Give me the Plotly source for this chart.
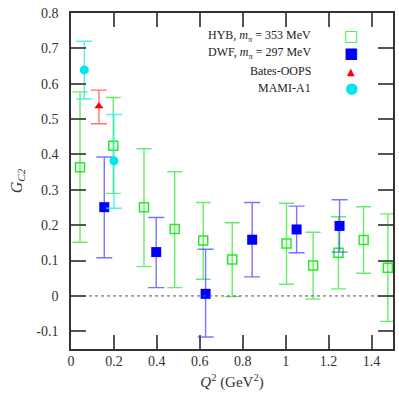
import plotly.graph_objects as go

# ---- data ----
hyb_q = [0.042, 0.197, 0.340, 0.483, 0.616, 0.751, 1.004, 1.128, 1.246, 1.363, 1.476]
hyb_g = [0.364, 0.425, 0.251, 0.189, 0.157, 0.103, 0.148, 0.086, 0.122, 0.158, 0.080]
hyb_hi = [0.577, 0.561, 0.416, 0.351, 0.264, 0.207, 0.262, 0.180, 0.224, 0.252, 0.232]
hyb_lo = [0.152, 0.290, 0.083, 0.0235, 0.047, -0.002, 0.033, -0.009, 0.020, 0.064, -0.072]

dwf_q = [0.155, 0.397, 0.627, 0.844, 1.051, 1.251]
dwf_g = [0.251, 0.124, 0.006, 0.159, 0.188, 0.198]
dwf_hi = [0.393, 0.222, 0.132, 0.264, 0.254, 0.272]
dwf_lo = [0.108, 0.0235, -0.116, 0.054, 0.122, 0.124]

bates_q = [0.130]
bates_g = [0.536]
bates_hi = [0.582]
bates_lo = [0.487]

mami_q = [0.062, 0.200]
mami_g = [0.639, 0.382]
mami_hi = [0.720, 0.513]
mami_lo = [0.557, 0.248]

x_ticks = [0, 0.2, 0.4, 0.6, 0.8, 1.0, 1.2, 1.4]
x_ticklabels = ["0", "0.2", "0.4", "0.6", "0.8", "1", "1.2", "1.4"]
y_ticks = [-0.1, 0, 0.1, 0.2, 0.3, 0.4, 0.5, 0.6, 0.7, 0.8]
y_ticklabels = ["-0.1", "0", "0.1", "0.2", "0.3", "0.4", "0.5", "0.6", "0.7", "0.8"]

legend_labels = ["HYB, <i>m</i><sub>π</sub> = 353 MeV",
                 "DWF, <i>m</i><sub>π</sub> = 297 MeV",
                 "Bates-OOPS",
                 "MAMI-A1"]

FONT = "Liberation Serif"


def errs(vals, hi, lo):
    plus = [h - v for v, h in zip(vals, hi)]
    minus = [v - l for v, l in zip(vals, lo)]
    return plus, minus


fig = go.Figure()


def add_series(q, g, hi, lo, name, marker, ecolor, ew):
    p, m = errs(g, hi, lo)
    fig.add_trace(go.Scatter(
        x=q, y=g, mode="markers", name=name, showlegend=False,
        marker=marker, cliponaxis=False,
        error_y=dict(type="data", array=p, arrayminus=m, symmetric=False,
                     color=ecolor, thickness=1.4, width=ew),
    ))


add_series(hyb_q, hyb_g, hyb_hi, hyb_lo, "HYB",
           dict(symbol="square-open", size=9, color="#22ee22", line=dict(width=1.5, color="#22ee22")),
           "rgba(40,230,40,0.7)", 7.5)
add_series(dwf_q, dwf_g, dwf_hi, dwf_lo, "DWF",
           dict(symbol="square", size=10, color="#0000ff"),
           "rgba(60,60,255,0.7)", 8)
add_series(bates_q, bates_g, bates_hi, bates_lo, "Bates-OOPS",
           dict(symbol="triangle-up", size=8, color="#ff0000"),
           "rgba(255,70,70,0.75)", 8)
add_series(mami_q, mami_g, mami_hi, mami_lo, "MAMI-A1",
           dict(symbol="circle", size=9, color="#00e5ee"),
           "rgba(40,235,245,0.8)", 8)

# zero reference line
fig.add_shape(type="line", xref="paper", x0=0, x1=1, yref="y", y0=0, y1=0,
              line=dict(color="#555555", width=1, dash="dot"))

# legend (text on the left, symbol on the right as in reference)
leg_syms = ["<span style='color:#22ee22'>□</span>",
            "<span style='color:#0000ff'>■</span>",
            "<span style='color:#ff0000'>▲</span>",
            "<span style='color:#00e5ee'>●</span>"]
leg_sizes = [15, 15, 10, 15]
row_y = [36, 53, 71, 88]
L, R, T, B = 71, 6, 13, 50
W = H = 399
pw, ph = W - L - R, H - T - B
for lab, sym, sz, yy in zip(legend_labels, leg_syms, leg_sizes, row_y):
    yp = 1 - (yy - T) / ph
    fig.add_annotation(text=lab, xref="paper", yref="paper",
                       x=(313 - L) / pw, y=yp, xanchor="right", yanchor="middle",
                       showarrow=False, font=dict(family=FONT, size=12, color="#222"))
    fig.add_annotation(text=sym, xref="paper", yref="paper",
                       x=(351 - L) / pw, y=yp, xanchor="center", yanchor="middle",
                       showarrow=False, font=dict(family="DejaVu Sans", size=sz))

axis_common = dict(showline=True, linecolor="#333333", linewidth=1.5, mirror="ticks",
                   ticks="inside", tickcolor="#555555", tickwidth=1.5,
                   showgrid=False, zeroline=False, automargin=False,
                   tickfont=dict(family=FONT, size=14, color="#333"))

fig.update_xaxes(range=[0, 1.5], tickvals=x_ticks, ticktext=x_ticklabels, ticklen=14,
                 ticklabelstandoff=-2,
                 title=dict(text="<i>Q</i><sup>2</sup> (GeV<sup>2</sup>)",
                            font=dict(family=FONT, size=15, color="#333"), standoff=9),
                 **axis_common)
fig.update_yaxes(range=[-0.15, 0.8], tickvals=y_ticks, ticktext=y_ticklabels, ticklen=15,
                 ticklabelstandoff=8,
                 title=dict(text="<i>G</i><sub><i>C2</i></sub>",
                            font=dict(family=FONT, size=16, color="#333"), standoff=10),
                 **axis_common)

fig.update_layout(width=W, height=H, margin=dict(l=L, r=R, t=T, b=B),
                  paper_bgcolor="white", plot_bgcolor="white", showlegend=False)

fig.write_html("out.html", config={"displayModeBar": False},
               post_script="document.body.style.margin='0px';")
